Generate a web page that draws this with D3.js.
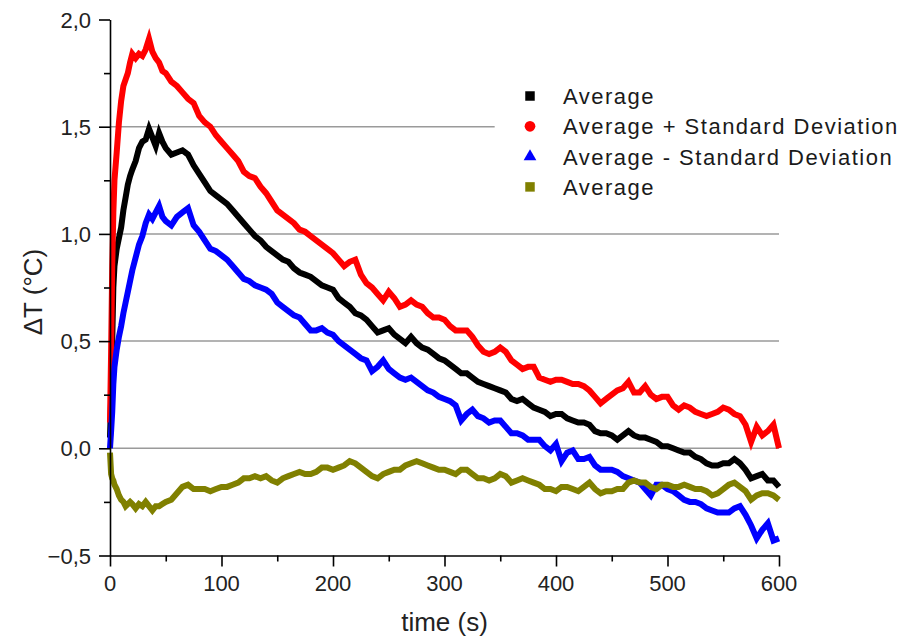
<!DOCTYPE html>
<html>
<head>
<meta charset="utf-8">
<script src="https://cdn.jsdelivr.net/npm/d3@7"></script>
<style>
  html, body { margin: 0; padding: 0; background: white; overflow: hidden; }
  svg { display: block; }
  text { font-family: "Liberation Sans", Arial, sans-serif; }
</style>
</head>
<body>
<div id="plot"></div>
<script>
// sample times (s)
const time = [
  0, 1, 2, 3, 4, 6, 8, 10, 12, 14, 16, 18, 20, 23, 26, 29, 32, 35, 38, 41, 44, 47, 50,
  55, 60, 65, 70, 75, 80, 85, 90, 95, 100,
  105, 110, 115, 120, 125, 130, 135, 140, 145, 150,
  155, 160, 165, 170, 175, 180, 185, 190, 195, 200,
  205, 210, 215, 220, 225, 230, 235, 240, 245, 250,
  255, 260, 265, 270, 275, 280, 285, 290, 295, 300,
  305, 310, 315, 320, 325, 330, 335, 340, 345, 350,
  355, 360, 365, 370, 375, 380, 385, 390, 395, 400,
  405, 410, 415, 420, 425, 430, 435, 440, 445, 450,
  455, 460, 465, 470, 475, 480, 485, 490, 495, 500,
  505, 510, 515, 520, 525, 530, 535, 540, 545, 550,
  555, 560, 565, 570, 575, 580, 585, 590, 595, 600
];

const average = [
  0.05, 0.23, 0.50, 0.75, 0.85, 0.93, 0.98, 1.03, 1.11, 1.17, 1.23, 1.27, 1.30, 1.34, 1.40, 1.43, 1.44, 1.49, 1.45, 1.41, 1.47, 1.43, 1.40,
  1.37, 1.38, 1.39, 1.37, 1.32, 1.28, 1.24, 1.20, 1.18, 1.16,
  1.14, 1.11, 1.08, 1.05, 1.02, 0.99, 0.97, 0.94, 0.92, 0.90,
  0.88, 0.87, 0.84, 0.82, 0.81, 0.80, 0.78, 0.76, 0.75, 0.74,
  0.70, 0.68, 0.66, 0.63, 0.62, 0.60, 0.57, 0.54, 0.55, 0.56,
  0.53, 0.51, 0.49, 0.52, 0.49, 0.47, 0.46, 0.44, 0.42, 0.41,
  0.39, 0.37, 0.35, 0.35, 0.33, 0.31, 0.30, 0.29, 0.28, 0.27,
  0.26, 0.23, 0.22, 0.23, 0.21, 0.19, 0.18, 0.17, 0.15, 0.16,
  0.16, 0.14, 0.13, 0.12, 0.12, 0.11, 0.08, 0.07, 0.07, 0.06,
  0.04, 0.06, 0.08, 0.06, 0.05, 0.05, 0.04, 0.03, 0.01, 0.01,
  0.00, -0.01, -0.02, -0.02, -0.04, -0.05, -0.07, -0.08, -0.08, -0.07,
  -0.07, -0.05, -0.07, -0.10, -0.14, -0.13, -0.12, -0.15, -0.15, -0.18
];

const avgPlusSD = [
  0.12, 0.45, 0.85, 1.10, 1.25, 1.38, 1.52, 1.62, 1.69, 1.72, 1.75, 1.80, 1.84, 1.82, 1.84, 1.83, 1.86, 1.91, 1.85, 1.82, 1.80, 1.76, 1.75,
  1.71, 1.69, 1.66, 1.63, 1.61, 1.55, 1.52, 1.50, 1.46, 1.43,
  1.40, 1.37, 1.34, 1.29, 1.27, 1.26, 1.22, 1.19, 1.15, 1.11,
  1.09, 1.07, 1.05, 1.02, 1.01, 0.99, 0.97, 0.95, 0.93, 0.91,
  0.88, 0.85, 0.87, 0.88, 0.81, 0.77, 0.75, 0.72, 0.69, 0.73,
  0.70, 0.66, 0.67, 0.69, 0.67, 0.66, 0.63, 0.61, 0.61, 0.60,
  0.57, 0.55, 0.55, 0.55, 0.52, 0.48, 0.45, 0.44, 0.45, 0.47,
  0.45, 0.41, 0.39, 0.37, 0.38, 0.38, 0.33, 0.32, 0.31, 0.32,
  0.32, 0.31, 0.30, 0.30, 0.29, 0.27, 0.24, 0.21, 0.23, 0.25,
  0.27, 0.28, 0.31, 0.26, 0.26, 0.29, 0.25, 0.23, 0.24, 0.24,
  0.20, 0.18, 0.20, 0.19, 0.17, 0.16, 0.15, 0.16, 0.17, 0.19,
  0.18, 0.16, 0.15, 0.11, 0.03, 0.10, 0.06, 0.08, 0.11, 0.00
];

const avgMinusSD = [
  0.00, 0.08, 0.17, 0.30, 0.38, 0.46, 0.52, 0.57, 0.63, 0.68, 0.73, 0.78, 0.83, 0.89, 0.95, 0.99, 1.05, 1.09, 1.07, 1.10, 1.13, 1.08, 1.06,
  1.04, 1.08, 1.10, 1.12, 1.04, 1.01, 0.97, 0.93, 0.92, 0.90,
  0.88, 0.85, 0.82, 0.79, 0.78, 0.76, 0.75, 0.74, 0.72, 0.68,
  0.66, 0.64, 0.62, 0.61, 0.58, 0.55, 0.55, 0.56, 0.54, 0.53,
  0.50, 0.48, 0.46, 0.44, 0.42, 0.41, 0.36, 0.38, 0.41, 0.37,
  0.35, 0.33, 0.32, 0.33, 0.31, 0.29, 0.27, 0.26, 0.24, 0.23,
  0.22, 0.20, 0.13, 0.16, 0.18, 0.15, 0.14, 0.12, 0.13, 0.13,
  0.10, 0.07, 0.07, 0.06, 0.04, 0.04, 0.04, 0.01, -0.01, 0.02,
  -0.06, -0.02, -0.01, -0.05, -0.05, -0.04, -0.08, -0.10, -0.10, -0.10,
  -0.11, -0.13, -0.14, -0.15, -0.16, -0.19, -0.22, -0.17, -0.17, -0.19,
  -0.20, -0.22, -0.24, -0.25, -0.25, -0.26, -0.28, -0.29, -0.30, -0.30,
  -0.30, -0.28, -0.27, -0.31, -0.36, -0.42, -0.38, -0.35, -0.43, -0.42
];

const average2 = [
  -0.02, -0.12, -0.14, -0.15, -0.17, -0.19, -0.22, -0.24, -0.25, -0.27, -0.26, -0.25, -0.26, -0.28, -0.26, -0.27, -0.25, -0.27, -0.29, -0.27, -0.27, -0.26, -0.25,
  -0.24, -0.21, -0.18, -0.17, -0.19, -0.19, -0.19, -0.20, -0.19, -0.18,
  -0.18, -0.17, -0.16, -0.14, -0.14, -0.13, -0.14, -0.13, -0.15, -0.16,
  -0.14, -0.13, -0.12, -0.11, -0.12, -0.12, -0.11, -0.09, -0.09, -0.10,
  -0.09, -0.08, -0.06, -0.07, -0.09, -0.11, -0.13, -0.14, -0.12, -0.11,
  -0.10, -0.10, -0.08, -0.07, -0.06, -0.07, -0.08, -0.09, -0.10, -0.10,
  -0.11, -0.12, -0.10, -0.10, -0.12, -0.14, -0.14, -0.15, -0.14, -0.12,
  -0.13, -0.16, -0.15, -0.14, -0.15, -0.16, -0.17, -0.19, -0.19, -0.20,
  -0.18, -0.18, -0.19, -0.20, -0.18, -0.16, -0.19, -0.21, -0.20, -0.20,
  -0.19, -0.19, -0.16, -0.15, -0.16, -0.16, -0.18, -0.19, -0.17, -0.17,
  -0.18, -0.18, -0.17, -0.18, -0.19, -0.19, -0.20, -0.22, -0.21, -0.19,
  -0.17, -0.16, -0.18, -0.20, -0.24, -0.22, -0.21, -0.21, -0.22, -0.24
];

const seriesNames = ["Average", "Average + Standard Deviation", "Average - Standard Deviation", "Average"];
const seriesColors = ["#000000", "#ff0000", "#0000ff", "#808000"];
const seriesSymbols = [d3.symbolSquare, d3.symbolCircle, d3.symbolTriangle, d3.symbolSquare];
const seriesValues = [average, avgPlusSD, avgMinusSD, average2];

const xTicks = [0, 100, 200, 300, 400, 500, 600];
const yTicks = [-0.5, 0, 0.5, 1.0, 1.5, 2.0];
const gridValues = [0, 0.5, 1.0, 1.5];

const w = 902;
const h = 640;
const margin = {top: 19.5, right: 123, bottom: 84.5, left: 110};
const innerWidth = w - margin.left - margin.right;
const innerHeight = h - margin.top - margin.bottom;

const svg = d3.select("div#plot")
  .append("svg")
  .attr("width", w)
  .attr("height", h);

svg.append("rect")
  .attr("width", w)
  .attr("height", h)
  .attr("fill", "white");

// scales map straight to page pixels
const xScale = d3.scaleLinear().domain([0, 600]).range([margin.left, margin.left + innerWidth]);
const yScale = d3.scaleLinear().domain([-0.5, 2.0]).range([margin.top + innerHeight, margin.top]);

// gridlines (the 1.5 one stops short of the legend)
svg.selectAll(".grid")
  .data(gridValues)
  .enter()
  .append("line")
  .attr("class", "grid")
  .attr("x1", xScale(0))
  .attr("x2", d => d === 1.5 ? xScale(345) : xScale(600))
  .attr("y1", d => yScale(d))
  .attr("y2", d => yScale(d))
  .attr("stroke", "#9a9a9a")
  .attr("stroke-width", 1.5);

// series
const line = d3.line()
  .x((d, i) => xScale(time[i]))
  .y(d => yScale(d));

seriesValues.forEach((vals, k) => {
  svg.append("path")
    .datum(vals)
    .attr("d", line)
    .attr("fill", "none")
    .attr("stroke", seriesColors[k])
    .attr("stroke-width", 6)
    .attr("stroke-linejoin", "miter");
});

// axes (ticks only, labels drawn separately)
const fmt = d3.format(".1f");
const xAxis = d3.axisBottom(xScale)
  .tickValues(d3.range(0, 601, 50))
  .tickSize(0)
  .tickFormat("");
const yAxis = d3.axisLeft(yScale)
  .tickValues(d3.range(-0.5, 2.01, 0.25))
  .tickSize(0)
  .tickFormat("");

const gx = svg.append("g").attr("transform", `translate(0, ${margin.top + innerHeight})`).call(xAxis);
const gy = svg.append("g").attr("transform", `translate(${margin.left}, 0)`).call(yAxis);
[gx, gy].forEach(a => {
  a.selectAll(".tick text").remove();
  a.select(".domain").attr("stroke", "#000").attr("stroke-width", 1.6);
  a.selectAll(".tick line").attr("stroke", "#000").attr("stroke-width", 1.6);
});
gx.selectAll(".tick line").attr("y2", (d) => d % 100 === 0 ? 11 : 6);
gy.selectAll(".tick line").attr("x2", (d) => Math.abs(d * 2 - Math.round(d * 2)) < 1e-6 ? -11 : -6);

svg.selectAll(".xlab")
  .data(xTicks)
  .enter()
  .append("text")
  .attr("class", "xlab")
  .attr("x", d => xScale(d))
  .attr("y", margin.top + innerHeight + 35)
  .attr("text-anchor", "middle")
  .attr("font-size", 22)
  .attr("fill", "#222")
  .text(d => d);

svg.selectAll(".ylab")
  .data(yTicks)
  .enter()
  .append("text")
  .attr("class", "ylab")
  .attr("x", margin.left - 19)
  .attr("y", d => yScale(d) + 8)
  .attr("text-anchor", "end")
  .attr("font-size", 22)
  .attr("fill", "#222")
  .text(d => fmt(d).replace(".", ","));

// axis titles
svg.append("text")
  .attr("x", margin.left + innerWidth / 2)
  .attr("y", 631)
  .attr("text-anchor", "middle")
  .attr("font-size", 26)
  .attr("fill", "#222")
  .text("time (s)");

svg.append("text")
  .attr("x", 42)
  .attr("y", 292)
  .attr("transform", "rotate(-90, 42, 292)")
  .attr("dy", 0)
  .attr("text-anchor", "middle")
  .attr("font-size", 26)
  .attr("fill", "#222")
  .text("ΔT (°C)");

// legend
const legendX = 530;
const legendY = 96;
seriesNames.forEach((name, k) => {
  const cy = legendY + k * 30.3;
  svg.append("path")
    .attr("d", d3.symbol().type(seriesSymbols[k]).size(k === 2 ? 70 : 90)())
    .attr("transform", `translate(${legendX}, ${cy})`)
    .attr("fill", seriesColors[k]);
  svg.append("text")
    .attr("x", legendX + 33)
    .attr("y", cy + 8)
    .attr("font-size", 22)
    .attr("letter-spacing", 1.5)
    .attr("fill", "#1a1a1a")
    .text(name);
});
</script>
</body>
</html>
